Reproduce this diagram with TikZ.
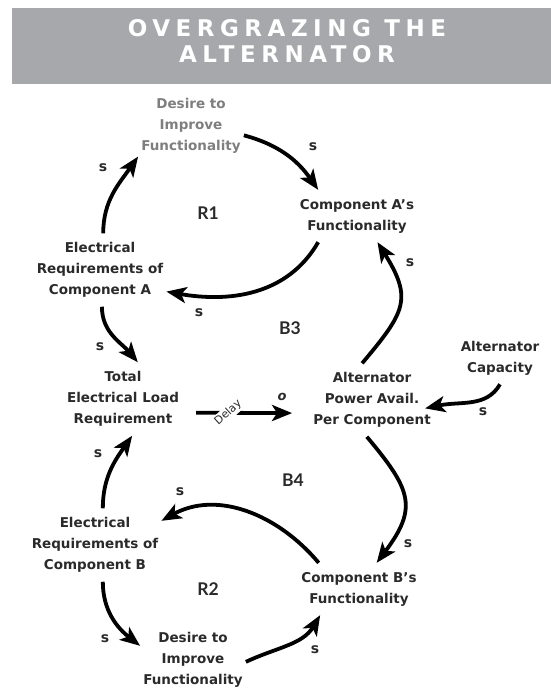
\documentclass[tikz,border=0pt]{standalone}
\usepackage{fontspec}
\setmainfont{DejaVu Sans}
\newfontfamily\titlefont[LetterSpace=24]{DejaVu Sans}
\newfontfamily\loopfont{Lato}
\usepackage{xcolor}
\usetikzlibrary{arrows.meta}
\definecolor{banner}{HTML}{A7A8AC}
\definecolor{ink}{HTML}{2A2A2A}
\definecolor{faded}{HTML}{7E7E7E}

\begin{document}
\begin{tikzpicture}[x=1pt,y=1pt,
  var/.style={align=center,text=ink,inner xsep=3pt,inner ysep=9pt,
    font=\fontsize{13.5}{21}\selectfont\bfseries},
  lbl/.style={font=\fontsize{14}{16}\selectfont\bfseries,text=ink},
  loopname/.style={font=\fontsize{17.5}{20}\selectfont\loopfont\bfseries,text=ink},
  link/.style={line width=3.8pt,-{Stealth[length=20pt 0,width=16pt 0,inset=5pt]}}]
\useasboundingbox (0,0) rectangle (551,-689);
% title banner
\fill[banner] (12,-8) rectangle (551,-84);
\node[text=white,align=center,font=\fontsize{23}{26}\selectfont\titlefont\bfseries] (title) at (287,-41.5) {OVERGRAZING THE\\ALTERNATOR};

% variables
\node[var,text=faded] (desT) at (191,-126) {Desire to\\Improve\\Functionality};
\node[var] (compA) at (357,-216) {Component A's\\Functionality};
\node[var] (elecA) at (100,-270) {Electrical\\Requirements of\\Component A};
\node[var] (total) at (123,-399) {Total\\Electrical Load\\Requirement};
\node[var] (altP) at (372,-400) {Alternator\\Power Avail.\\Per Component};
\node[var] (altC) at (500,-358) {Alternator\\Capacity};
\node[var] (elecB) at (95,-545) {Electrical\\Requirements of\\Component B};
\node[var] (compB) at (359,-589) {Component B's\\Functionality};
\node[var] (desB) at (193,-660) {Desire to\\Improve\\Functionality};

% loop names
\node[loopname] (r1) at (208,-213) {R1};
\node[loopname] (b3) at (290,-328) {B3};
\node[loopname] (b4) at (293,-480) {B4};
\node[loopname] (r2) at (208,-589) {R2};

% links
\draw[link] (elecA.85) to[out=90,in=-125] (desT.-150);
\draw[link] (desT.-10) to[out=-15,in=125] (compA.146);
\draw[link] (compA.-146) to[out=-120,in=-10] (elecA.-18);
\draw[link] (altP.105) to[out=50,in=-58,looseness=1.4] (compA.-52);
\draw[link] (elecA.-87) to[out=-90,in=130] (total.68);
\draw[link,shorten <=14pt,shorten >=18pt] (total.-13) -- (altP.192)
  node[pos=0.36,rotate=42,fill=white,inner sep=1.5pt,font=\fontsize{11}{12}\selectfont,text=ink] (delay) {Delay};
\draw[link,shorten >=-9pt] (altC.south) to[out=-120,in=12] (altP.-6);
\draw[link] (altP.-98) to[out=-50,in=53,looseness=1.4] (compB.56);
\draw[link] (compB.147) to[out=130,in=29] (elecB.20);
\draw[link] (elecB.78) to[out=90,in=-125] (total.-76);
\draw[link] (elecB.-78) to[out=-90,in=142] (desB.165);
\draw[link] (desB.-2) to[out=25,in=-121] (compB.-146);

% polarities
\node[lbl] (s1) at (103,-168) {s};
\node[lbl] (s2) at (313,-147) {s};
\node[lbl] (s3) at (199,-313) {s};
\node[lbl] (s4) at (410,-263) {s};
\node[lbl] (s5) at (100,-347) {s};
\node[lbl] (s6) at (483,-412) {s};
\node[lbl] (s7) at (408,-544) {s};
\node[lbl] (s8) at (180,-492) {s};
\node[lbl] (s9) at (98,-454) {s};
\node[lbl] (s10) at (105,-639) {s};
\node[lbl] (s11) at (315,-650) {s};
\node[lbl,font=\fontsize{13}{15}\selectfont\bfseries\itshape] (o1) at (282,-397) {o};
\end{tikzpicture}
\end{document}
